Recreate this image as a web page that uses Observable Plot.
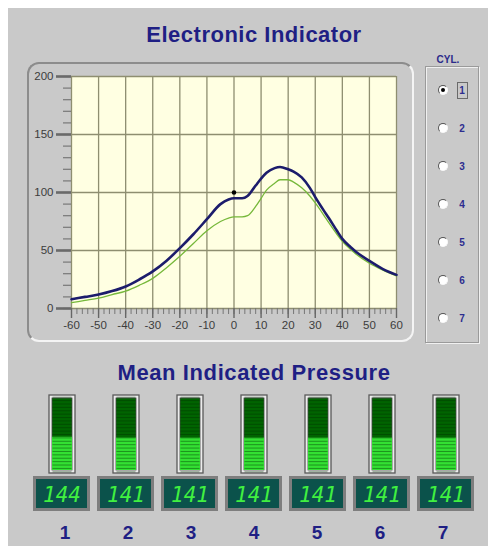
<!DOCTYPE html>
<html><head><meta charset="utf-8">
<script src="https://cdn.jsdelivr.net/npm/d3@7"></script>
<script src="https://cdn.jsdelivr.net/npm/@observablehq/plot@0.6"></script>
<style>
html,body{margin:0;padding:0;background:#fff;}
#root{position:absolute;left:0;top:0;width:488px;height:546px;background:#c9c9c9;overflow:hidden;font-family:"Liberation Sans",Arial,sans-serif;}
.abs{position:absolute;}
.title{color:#1f1f84;font-weight:bold;white-space:nowrap;transform:translate(-50%,-50%);}
</style></head><body><div id="root"></div>
<script>
// ---- data ----
const angles   = [-60,-55,-50,-45,-40,-35,-30,-25,-20,-15,-10,-5,-2,0,3,5,8,10,12,15,17,20,22,25,28,30,33,35,38,40,43,45,50,55,60];
const pressure = [8,10,12,15,19,25,32,41,52,64,77,90,94,95,95,97,106,112,117,121,122,120,118,113,104,96,85,78,67,60,53,49,41,34,29];
const reference= [5,7,9,12,15,20,26,35,45,56,67,75,78,79,79,80,88,95,102,108,111,111,109,104,97,91,81,74,64,58,51,47,39,33,28];
const markerPoint = [{angle:0, p:100}];
const xTicks = [-60,-50,-40,-30,-20,-10,0,10,20,30,40,50,60];
const xMinorTicks = d3.range(-60, 61, 2);
const yTicks = [0,50,100,150,200];
const yMinorTicks = [0,10,20,30,40,50,60,70,80,90,100,110,120,130,140,150,160,170,180,190,200];
const cylinders = ["1","2","3","4","5","6","7"];
const mip = [144,141,141,141,141,141,141];
const gaugeMax = 310;

const root = document.getElementById("root");
function add(html, css){const d=document.createElement("div");d.className="abs";d.innerHTML=html;Object.assign(d.style,css);root.appendChild(d);return d;}

// white strips
add("",{left:"0px",top:"0px",width:"488px",height:"8px",background:"#fff"});
add("",{left:"0px",top:"0px",width:"8px",height:"546px",background:"#fff"});

// titles
const t1=add("Electronic Indicator",{left:"254px",top:"35px",fontSize:"22px",letterSpacing:"0.5px"});t1.classList.add("title");
const t2=add("Mean Indicated Pressure",{left:"254px",top:"373px",fontSize:"22px",letterSpacing:"0.6px"});t2.classList.add("title");

// main chart frame
add("",{left:"27px",top:"62px",width:"383px",height:"276px",borderRadius:"12px",
  borderTop:"2px solid #8c8c8c",borderLeft:"2px solid #8c8c8c",borderRight:"2px solid #f4f4f4",borderBottom:"2px solid #f4f4f4"});

// main chart
const rows = angles.map((a,i)=>({angle:a, p:pressure[i], r:reference[i]}));
const chart = Plot.plot({
  width: 400, height: 290,
  marginLeft: 51, marginRight: 24, marginTop: 16, marginBottom: 42,
  x: {domain:[-60,60], label:null},
  y: {domain:[0,200], label:null},
  style: {background:"transparent", fontFamily:"Liberation Sans, Arial, sans-serif", fontSize:"11.5px", color:"#3c3c3c", overflow:"visible"},
  marks: [
    Plot.frame({fill:"#ffffe2", stroke:null}),
    Plot.gridX(xTicks, {stroke:"#8e8e70", strokeOpacity:1, strokeWidth:1.3}),
    Plot.gridY(yTicks, {stroke:"#8e8e70", strokeOpacity:1, strokeWidth:1.3}),
    Plot.axisX(xMinorTicks, {tickSize:6, text:null, stroke:"#777", strokeWidth:1, label:null}),
    Plot.axisX(xTicks, {tickSize:10, tickPadding:2, stroke:"#666", strokeWidth:1.4, label:null, tickFormat:d=>String(d)}),
    Plot.axisY(yMinorTicks, {tickSize:8, text:null, stroke:"#777", strokeWidth:1.2, label:null}),
    Plot.axisY(yTicks, {tickSize:15, tickPadding:3, stroke:"#6a6a6a", strokeWidth:2.6, label:null, tickFormat:d=>String(d)}),
    Plot.line(rows, {x:"angle", y:"r", stroke:"#76b83a", strokeWidth:1.3, curve:"monotone-x"}),
    Plot.line(rows, {x:"angle", y:"p", stroke:"#1c1c6c", strokeWidth:2.6, curve:"monotone-x"}),
    Plot.dot(markerPoint, {x:"angle", y:"p", r:2.3, fill:"#000", stroke:null})
  ]
});
const c1=add("",{left:"20px",top:"60px"});c1.appendChild(chart);

// cylinder group box
add("",{left:"425px",top:"66px",width:"52px",height:"275px",border:"1px solid #9a9a9a",boxShadow:"inset 1px 1px 0 #f0f0f0, 1px 1px 0 #f0f0f0"});
add("CYL.",{left:"448px",top:"59px",fontSize:"10px",fontWeight:"bold",color:"#2a2a8a",transform:"translate(-50%,-50%)"});
cylinders.forEach((c,i)=>{
  const y = 90 + i*38;
  add("",{left:(443-5)+"px",top:(y-5)+"px",width:"8px",height:"8px",borderRadius:"50%",background:"#fff",
    borderTop:"1.5px solid #555",borderLeft:"1.5px solid #555",borderRight:"1.5px solid #f8f8f8",borderBottom:"1.5px solid #f8f8f8"});
  if(i===0) add("",{left:"441px",top:"88px",width:"4px",height:"4px",borderRadius:"50%",background:"#000"});
  add(c,{left:"462px",top:y+"px",fontSize:"10px",fontWeight:"bold",color:"#2d2d8f",transform:"translate(-50%,-50%)"});
  if(i===0) add("",{left:"457px",top:"82px",width:"9px",height:"15px",border:"1px solid #6a6a6a"});
});

// gauges
const gdata = cylinders.map((c,i)=>({cyl:c, mip:mip[i]}));
const stripeStep = gaugeMax/23;
const stripes = d3.cross(cylinders, d3.range(stripeStep/2, gaugeMax, stripeStep)).map(([c,v])=>({cyl:c, v}));
const gauge = Plot.plot({
  width:488, height:78, marginLeft:29, marginRight:10, marginTop:0, marginBottom:0,
  x:{type:"band", domain:cylinders, paddingInner:0.6, paddingOuter:0.3, axis:null},
  y:{domain:[0,gaugeMax], axis:null},
  style:{background:"transparent", overflow:"visible"},
  marks:[
    Plot.rectY(cylinders, {x:d=>d, y1:0, y2:gaugeMax, fill:"#ececec", stroke:"#5a5a5a", strokeWidth:1.3}),
    Plot.rectY(cylinders, {x:d=>d, y1:0, y2:gaugeMax, fill:"#006400", stroke:"#444", strokeWidth:0.8, inset:3}),
    Plot.rectY(gdata, {x:"cyl", y1:0, y2:"mip", fill:"#33e033", insetLeft:3, insetRight:3, insetBottom:3}),
    Plot.tickY(stripes, {x:"cyl", y:"v", stroke:"#003300", strokeOpacity:0.45, strokeWidth:1, inset:3.5})
  ]
});
const c2=add("",{left:"0px",top:"395px"});c2.appendChild(gauge);

// LCD readouts
const lcd = Plot.plot({
  width:488, height:35, marginLeft:29, marginRight:10, marginTop:0, marginBottom:0,
  x:{type:"band", domain:cylinders, paddingInner:0.11, paddingOuter:0.055, axis:null},
  style:{background:"transparent", overflow:"visible"},
  marks:[
    Plot.cell(gdata, {x:"cyl", fill:"#0b524b", stroke:"#7e7e7e", strokeWidth:3, inset:1.5}),
    Plot.text(gdata, {x:"cyl", text:d=>String(d.mip), fill:"#40f040", fontSize:21, fontFamily:"DejaVu Sans Mono, monospace", fontStyle:"italic", fontWeight:"normal", letterSpacing:"2px", dy:1})
  ]
});
const c3=add("",{left:"0px",top:"476px"});c3.appendChild(lcd);

// cylinder numbers
const labels = Plot.plot({
  width:488, height:26, marginLeft:29, marginRight:10, marginTop:0, marginBottom:0,
  x:{type:"band", domain:cylinders, axis:null},
  style:{background:"transparent", overflow:"visible"},
  marks:[
    Plot.text(cylinders, {x:d=>d, text:d=>d, fill:"#1f1f84", fontSize:19, fontWeight:"bold", fontFamily:"Liberation Sans, Arial, sans-serif"})
  ]
});
const c4=add("",{left:"0px",top:"519px"});c4.appendChild(labels);
</script></body></html>
